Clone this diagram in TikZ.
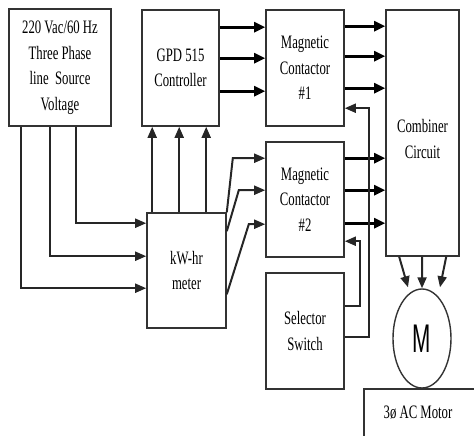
\documentclass[tikz,border=0pt]{standalone}
\usepackage{fontspec}
\usetikzlibrary{calc,arrows.meta,shapes.geometric}
\newfontfamily\lblfont[FakeStretch=0.67]{Liberation Serif}
\newfontfamily\bigmfont[FakeStretch=0.55]{Liberation Sans}
\begin{document}
\begin{tikzpicture}[x=1pt,y=-1pt,
  lbl/.style={align=center, inner sep=0pt, font=\lblfont\fontsize{19}{25.5}\selectfont},
  box/.style={lbl, draw=black!80, line width=1.6pt},
  arr/.style={line width=2.8pt, -{Triangle[length=11pt,width=10pt]}},
  wire/.style={line width=2pt, black!85, -{Triangle[length=11pt,width=9pt]}}]
\useasboundingbox (0,0) rectangle (474,436);
\node[box, minimum width=102pt, minimum height=117pt] (src) at (60,67.5) {220 Vac/60 Hz\\Three Phase\\line\ \ Source\\Voltage};
\node[box, minimum width=77pt, minimum height=116pt] (gpd) at (180.5,68) {GPD 515\\Controller};
\node[box, minimum width=78pt, minimum height=116pt] (mc1) at (305,68) {Magnetic\\Contactor\\\#1};
\node[box, minimum width=73pt, minimum height=246pt] (comb) at (422.5,133) {};
\node[lbl] (combtxt) at ($(comb.center)+(0,6)$) {Combiner\\Circuit};
\node[box, minimum width=78pt, minimum height=115pt] (mc2) at (305,199.5) {Magnetic\\Contactor\\\#2};
\node[box, minimum width=79pt, minimum height=115pt] (meter) at (186.5,270.5) {kW-hr\\meter};
\node[box, minimum width=78pt, minimum height=116pt] (sel) at (305,331) {Selector\\Switch};
\node[draw=black!80, line width=1.4pt, ellipse, minimum width=58pt, minimum height=99pt, inner sep=0pt,
  font=\bigmfont\fontsize{40}{40}\selectfont] (motor) at (422,338.5) {M};
% motor label box (open to the right and bottom)
\coordinate (mlA) at (474,389);
\coordinate (mlB) at (364,389);
\coordinate (mlC) at (364,436);
\draw[black!80, line width=1.6pt] (mlA) -- (mlB) -- (mlC);
\node[lbl] (mlabel) at (418,413) {3ø AC Motor};
% source to meter
\draw[wire] ($(src.south west)+(13,0)$) |- ($(meter.north west)+(0,76)$);
\draw[wire] ($(src.south west)+(42,0)$) |- ($(meter.north west)+(0,44)$);
\draw[wire] ($(src.south west)+(68,0)$) |- ($(meter.north west)+(0,11)$);
% meter to GPD
\foreach \dx in {6,33,60}{
  \draw[wire] ($(meter.north west)+(\dx,0)$) coordinate (mtop) -- (mtop |- gpd.south);
}
% GPD to MC1
\foreach \dy in {18,49,82}{
  \draw[arr] ($(gpd.north east)+(0,\dy)$) coordinate (gout) -- (gout -| mc1.west);
}
% MC1 to combiner
\foreach \dy in {17,47,79}{
  \draw[arr] ($(mc1.north east)+(0,\dy)$) coordinate (c1out) -- (c1out -| comb.west);
}
% MC2 to combiner
\foreach \dy in {17,49,82}{
  \draw[arr] ($(mc2.north east)+(0,\dy)$) coordinate (c2out) -- (c2out -| comb.west);
}
% meter to MC2
\draw[wire] (meter.north east) -- ($(meter.north east)+(6,-54)$) -- ($(mc2.north west)+(0,17)$);
\draw[wire] ($(meter.north east)+(0,19)$) -- ($(meter.north east)+(12,-22)$) -- ($(mc2.north west)+(0,49)$);
\draw[wire] ($(meter.north east)+(0,82)$) -- ($(meter.north east)+(22,12)$) -- ($(mc2.north west)+(0,83)$);
% selector feedback
\draw[wire] ($(sel.north east)+(0,65)$) -- ++(24,0) |- ($(mc1.north east)+(0,99)$);
\draw[wire] ($(sel.north east)+(0,34)$) -- ++(15,0) |- ($(mc2.north east)+(0,100)$);
% combiner to motor
\draw[wire] ($(comb.south west)+(14,0)$) -- ($(motor.north)+(-14,-1)$);
\draw[wire] ($(comb.south west)+(37,0)$) -- (motor.north);
\draw[wire] ($(comb.south west)+(61,0)$) -- ($(motor.north)+(18,-1)$);
\end{tikzpicture}
\end{document}
